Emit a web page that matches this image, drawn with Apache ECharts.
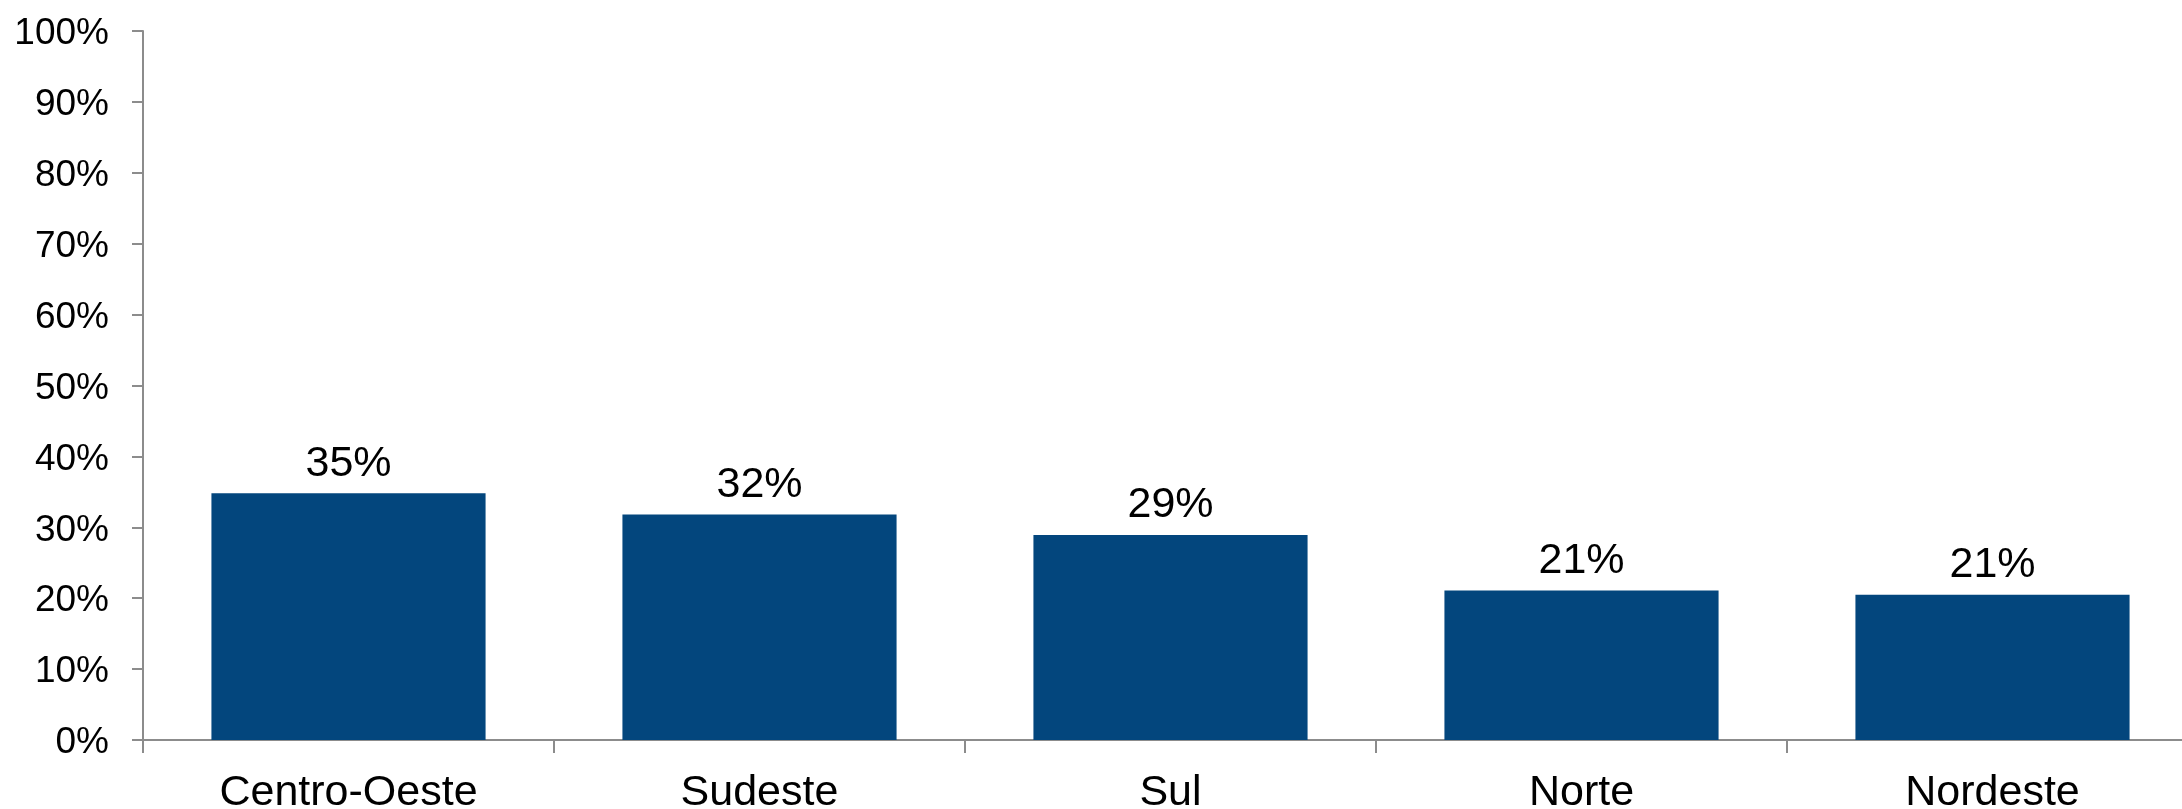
<!DOCTYPE html>
<html>
<head>
<meta charset="utf-8">
<script src="https://cdn.jsdelivr.net/npm/echarts@6/dist/echarts.min.js"></script>
<style>
  html, body { margin: 0; padding: 0; background: #ffffff; }
  #chart { width: 2182px; height: 809px; }
</style>
</head>
<body>
<div id="chart"></div>
<script>
// Regions of Brazil and their share (%)
const regions = ['Centro-Oeste', 'Sudeste', 'Sul', 'Norte', 'Nordeste'];
const shares = [34.8, 31.8, 28.9, 21.1, 20.5];

// Percentage axis
const axisMin = 0;
const axisMax = 100;
const axisStep = 10;

const FONT = '"Liberation Sans", Arial, sans-serif';
const AXIS_GREY = '#8c8c8c';
const BAR_BLUE = '#03467d';

const chart = echarts.init(document.getElementById('chart'), null, { renderer: 'canvas' });

chart.setOption({
  backgroundColor: '#ffffff',
  animation: false,
  // fixed plot box; it runs slightly past the right edge of the canvas
  grid: { left: 143, top: 31, width: 2055, height: 709, containLabel: false, outerBoundsMode: 'none' },
  xAxis: {
    type: 'category',
    data: regions,
    boundaryGap: true,
    axisLine: { show: true, lineStyle: { color: AXIS_GREY, width: 2 } },
    axisTick: { show: true, alignWithLabel: false, length: 13, lineStyle: { color: AXIS_GREY, width: 2 } },
    axisLabel: { color: '#000000', fontFamily: FONT, fontSize: 43, margin: 32 },
    splitLine: { show: false }
  },
  yAxis: {
    type: 'value',
    min: axisMin,
    max: axisMax,
    interval: axisStep,
    axisLine: { show: true, lineStyle: { color: AXIS_GREY, width: 2 } },
    axisTick: { show: true, inside: false, length: 11, lineStyle: { color: AXIS_GREY, width: 2 } },
    axisLabel: {
      margin: 34,
      formatter: v => '{p|' + v + '%}',
      rich: {
        // small top padding nudges the tick text down onto its tick
        p: { color: '#000000', fontFamily: FONT, fontSize: 37, padding: [6, 0, 0, 0] }
      }
    },
    splitLine: { show: false }
  },
  series: [{
    type: 'bar',
    data: shares,
    barWidth: '66.7%',
    itemStyle: { color: BAR_BLUE },
    label: {
      show: true,
      position: 'top',
      distance: 8,
      color: '#000000',
      fontFamily: FONT,
      fontSize: 43,
      formatter: p => Math.round(p.value) + '%'
    }
  }]
});
</script>
</body>
</html>
